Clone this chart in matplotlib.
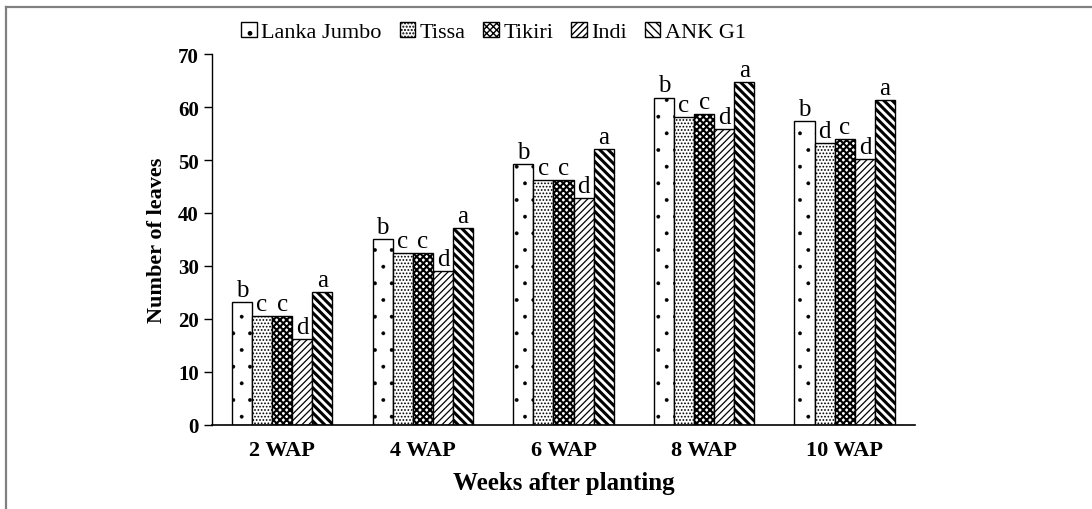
import numpy as np
import matplotlib
matplotlib.use("Agg")
import matplotlib.pyplot as plt
from matplotlib.lines import Line2D

# data
weeks = ['2 WAP', '4 WAP', '6 WAP', '8 WAP', '10 WAP']
varieties = ['Lanka Jumbo', 'Tissa', 'Tikiri', 'Indi', 'ANK G1']
lanka_jumbo = [23.2, 35.1, 49.2, 61.8, 57.3]
tissa = [20.6, 32.5, 46.2, 58.1, 53.2]
tikiri = [20.6, 32.5, 46.2, 58.6, 54.0]
indi = [16.2, 29.1, 42.8, 55.8, 50.1]
ank_g1 = [25.1, 37.2, 52.1, 64.8, 61.3]
letters = [
    ['b', 'c', 'c', 'd', 'a'],
    ['b', 'c', 'c', 'd', 'a'],
    ['b', 'c', 'c', 'd', 'a'],
    ['b', 'c', 'c', 'd', 'a'],
    ['b', 'd', 'c', 'd', 'a'],
]

series = [lanka_jumbo, tissa, tikiri, indi, ank_g1]
hatches = ['.', '.....', 'xxxxx', '/////', '\\\\\\\\']
hatch_lw = [0.3, 0.8, 1.5, 0.9, 2.2]

plt.rcParams['font.family'] = ['Liberation Serif', 'DejaVu Serif']
plt.rcParams['hatch.color'] = 'black'

fig = plt.figure(figsize=(10.92, 5.1), dpi=100)
ax = fig.add_axes([0.194, 0.165, 0.644, 0.727])

x = np.arange(len(weeks))
width = 0.143
for i, (vals, name) in enumerate(zip(series, varieties)):
    pos = x + (i - 2) * width
    bars = ax.bar(pos, vals, width, color='white', edgecolor='black',
                  linewidth=1.0, hatch=hatches[i], label=name)
    for b in bars:
        if hasattr(b, 'set_hatch_linewidth'):
            b.set_hatch_linewidth(hatch_lw[i])
    for j, v in enumerate(vals):
        ax.text(pos[j], v + 0.2, letters[j][i], ha='center', va='bottom',
                fontsize=18)

ax.set_xlim(-0.5, len(weeks) - 0.5)
ax.set_ylim(0, 70)
ax.set_yticks(range(0, 71, 10))
ax.set_xticks(x)
ax.set_xticklabels(weeks, fontsize=16, fontweight='bold')
ax.tick_params(axis='x', length=0, pad=11)
ax.tick_params(axis='y', direction='out', length=6, labelsize=15, width=1)
for lab in ax.get_yticklabels():
    lab.set_fontweight('bold')
ax.spines['top'].set_visible(False)
ax.spines['right'].set_visible(False)
ax.spines['left'].set_linewidth(1.0)
ax.spines['bottom'].set_linewidth(1.2)

ax.set_ylabel('Number of leaves', fontsize=16, fontweight='bold', labelpad=8)
ax.set_xlabel('Weeks after planting', fontsize=18, fontweight='bold', labelpad=8)

leg = fig.legend(loc='upper center', bbox_to_anchor=(0.452, 0.995), ncol=5,
                 frameon=False, fontsize=16, handlelength=0.7, handleheight=0.7,
                 handletextpad=0.2, columnspacing=0.8)

# partial grey frame (top and left only)
fig.add_artist(Line2D([0.0055, 1.0], [0.985, 0.985], color='#808080', lw=1.6))
fig.add_artist(Line2D([0.0055, 0.0055], [0.0, 0.985], color='#808080', lw=1.6))

fig.savefig('out.png', dpi=100)
